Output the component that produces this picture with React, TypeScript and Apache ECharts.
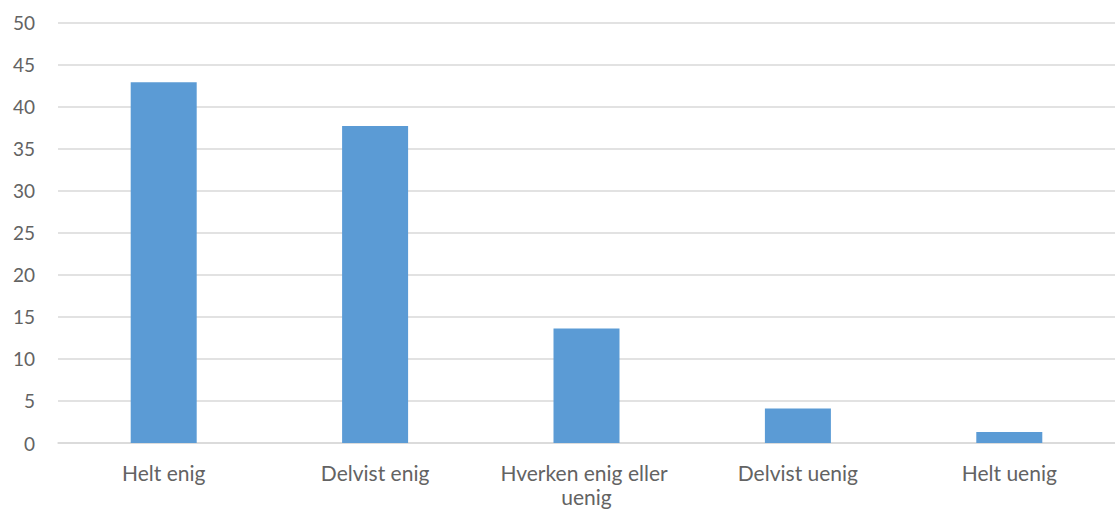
import React, { useEffect, useRef } from "react";
import * as echarts from "echarts";

const categories = ["Helt enig", "Delvist enig", "Hverken enig eller uenig", "Delvist uenig", "Helt uenig"];
const values = [42.9, 37.7, 13.6, 4.1, 1.3];
const yMin = 0;
const yMax = 50;
const yStep = 5;

export default function App() {
  const ref = useRef<HTMLDivElement>(null);
  useEffect(() => {
    if (!ref.current) return;
    const chart = echarts.init(ref.current, undefined, { renderer: "svg" });
    chart.setOption({
      animation: false,
      backgroundColor: "#ffffff",
      grid: { left: 58, top: 22.5, right: -2, bottom: 76, containLabel: false },
      xAxis: {
        type: "category",
        data: categories,
        axisLine: { show: true, lineStyle: { color: "#d9d9d9", width: 1.5 } },
        axisTick: { show: false },
        axisLabel: {
          color: "#636363",
          fontFamily: "Lato",
          fontSize: 21,
          margin: 17,
          width: 192,
          overflow: "break",
          lineHeight: 24,
          interval: 0,
        },
      },
      yAxis: {
        type: "value",
        min: yMin,
        max: yMax,
        interval: yStep,
        axisLine: { show: false },
        axisTick: { show: false },
        splitLine: { lineStyle: { color: "#d9d9d9", width: 1.5 } },
        axisLabel: { color: "#636363", fontFamily: "Lato", fontSize: 19, margin: 23 },
      },
      series: [
        {
          type: "bar",
          data: values,
          barWidth: 66,
          itemStyle: { color: "#5b9bd5" },
        },
      ],
    });
    return () => chart.dispose();
  }, []);
  return (
    <div
      ref={ref}
      style={{ position: "absolute", left: 0, top: 0, width: 1115, height: 519 }}
    />
  );
}
